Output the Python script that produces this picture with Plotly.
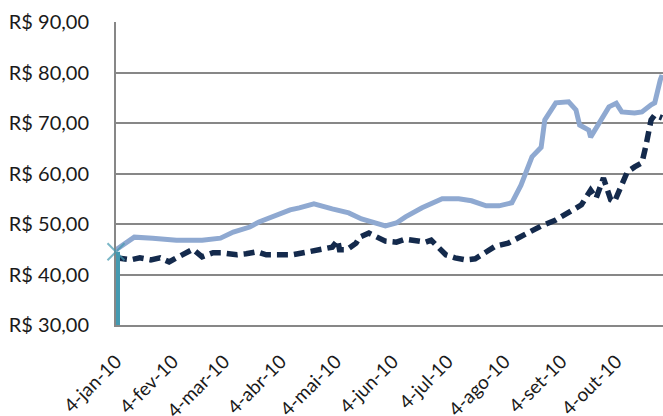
import plotly.graph_objects as go

# light series (solid)
light_dates = [
    "2010-01-04", "2010-01-14", "2010-01-24", "2010-02-06", "2010-02-20", "2010-03-02",
    "2010-03-09", "2010-03-18", "2010-03-23", "2010-04-02", "2010-04-09", "2010-04-14",
    "2010-04-22", "2010-05-02", "2010-05-11", "2010-05-18", "2010-05-26", "2010-05-31",
    "2010-06-06", "2010-06-11", "2010-06-20", "2010-07-01", "2010-07-10", "2010-07-17",
    "2010-07-25", "2010-08-01", "2010-08-08", "2010-08-13", "2010-08-19", "2010-08-24",
    "2010-08-26", "2010-09-01", "2010-09-08", "2010-09-12", "2010-09-14", "2010-09-19",
    "2010-09-20", "2010-09-24", "2010-09-28", "2010-09-30", "2010-10-04", "2010-10-07",
    "2010-10-14", "2010-10-18", "2010-10-23", "2010-10-25", "2010-10-28", "2010-10-29",
]
light_values = [
    44.9, 47.4, 47.2, 46.8, 46.8, 47.2,
    48.4, 49.4, 50.4, 51.8, 52.8, 53.2,
    54.0, 53.0, 52.2, 51.0, 50.0, 49.6,
    50.2, 51.4, 53.2, 55.0, 55.0, 54.6,
    53.6, 53.6, 54.2, 57.7, 63.3, 65.2,
    70.6, 74.0, 74.2, 72.6, 69.6, 68.6,
    67.2, 69.6, 71.6, 73.2, 73.9, 72.2,
    72.0, 72.2, 73.6, 74.0, 78.5, 79.5,
]

# dark series (dashed)
dark_dates = [
    "2010-01-04", "2010-01-12", "2010-01-17", "2010-01-23", "2010-01-28", "2010-02-02",
    "2010-02-06", "2010-02-12", "2010-02-15", "2010-02-20", "2010-02-26", "2010-03-03",
    "2010-03-11", "2010-03-16", "2010-03-22", "2010-03-27", "2010-04-03", "2010-04-10",
    "2010-04-19", "2010-04-25", "2010-05-02", "2010-05-05", "2010-05-06", "2010-05-10",
    "2010-05-15", "2010-05-17", "2010-05-22", "2010-05-31", "2010-06-06", "2010-06-11",
    "2010-06-17", "2010-06-22", "2010-06-25", "2010-06-29", "2010-07-03", "2010-07-08",
    "2010-07-14", "2010-07-19", "2010-07-23", "2010-07-30", "2010-08-06", "2010-08-12",
    "2010-08-17", "2010-08-24", "2010-09-01", "2010-09-08", "2010-09-15", "2010-09-20",
    "2010-09-23", "2010-09-27", "2010-10-01", "2010-10-03", "2010-10-07", "2010-10-10",
    "2010-10-14", "2010-10-18", "2010-10-20", "2010-10-23", "2010-10-25", "2010-10-27",
    "2010-10-29",
]
dark_values = [
    43.3, 42.9, 43.3, 42.9, 43.3, 42.5,
    43.3, 44.5, 45.0, 43.5, 44.3, 44.3,
    43.9, 44.1, 44.5, 43.9, 43.9, 43.9,
    44.5, 44.9, 45.4, 46.8, 44.9, 44.9,
    46.2, 47.4, 48.2, 46.6, 46.4, 47.0,
    46.8, 46.4, 46.8, 45.4, 43.9, 43.3,
    42.9, 43.1, 43.9, 45.6, 46.2, 47.4,
    48.4, 49.6, 50.8, 52.2, 53.8, 56.7,
    55.1, 59.1, 54.8, 54.4, 57.9, 60.3,
    61.3, 62.1, 65.2, 70.6, 71.6, 71.2,
    71.0,
]

# teal drop marker at the start
marker_dates = ["2010-01-04", "2010-01-04"]
marker_values = [29.5, 44.5]

y_ticks = [30, 40, 50, 60, 70, 80, 90]
y_labels = ["R$ 30,00", "R$ 40,00", "R$ 50,00", "R$ 60,00", "R$ 70,00", "R$ 80,00", "R$ 90,00"]
x_ticks = ["2010-01-04", "2010-02-04", "2010-03-04", "2010-04-04", "2010-05-04",
           "2010-06-04", "2010-07-04", "2010-08-04", "2010-09-04", "2010-10-04"]
x_labels = ["4-jan-10", "4-fev-10", "4-mar-10", "4-abr-10", "4-mai-10",
            "4-jun-10", "4-jul-10", "4-ago-10", "4-set-10", "4-out-10"]

fig = go.Figure()

fig.add_trace(go.Scatter(x=light_dates, y=light_values, mode="lines",
                         line=dict(color="#8FA9D1", width=5), showlegend=False))
fig.add_trace(go.Scatter(x=dark_dates, y=dark_values, mode="lines",
                         line=dict(color="#142A4C", width=5.5, dash="11px,6px"), showlegend=False))
fig.add_trace(go.Scatter(x=marker_dates, y=marker_values, mode="lines+markers",
                         line=dict(color="#4499B0", width=8),
                         marker=dict(symbol=["line-ns", "x-thin"], size=[1, 17],
                                     line=dict(color="#4499B0", width=2)),
                         cliponaxis=False, showlegend=False))

# title, mostly cut off at the top of the picture
fig.add_annotation(text="(R$/t)", x=0.406, y=1.063, xref="paper", yref="paper",
                   xanchor="center", yanchor="bottom", showarrow=False,
                   font=dict(size=20, color="#1a1a1a"))

fig.update_layout(
    width=663, height=416,
    margin=dict(l=116, r=0, t=22, b=91, autoexpand=False),
    plot_bgcolor="white",
    paper_bgcolor="white",
    font=dict(family="Lato, Open Sans, sans-serif", size=20, color="#1a1a1a"),
)
fig.update_xaxes(
    type="date",
    range=["2010-01-04", "2010-10-29 12:00"],
    tickvals=x_ticks, ticktext=x_labels, tickangle=-45,
    showgrid=False, showline=True, linecolor="#878787", linewidth=2,
    ticks="", ticklabelstandoff=16, tickfont=dict(size=19),
    layer="below traces", automargin=False,
)
fig.update_yaxes(
    range=[30, 90],
    tickvals=y_ticks, ticktext=y_labels,
    showgrid=True, gridcolor="#878787", gridwidth=1.5,
    showline=True, linecolor="#878787", linewidth=2,
    zeroline=False, ticks="", ticklabelstandoff=21, tickfont=dict(size=20),
    layer="below traces", automargin=False,
)

fig.write_html("out.html", config={"displayModeBar": False},
               post_script="document.body.style.margin='0';")
